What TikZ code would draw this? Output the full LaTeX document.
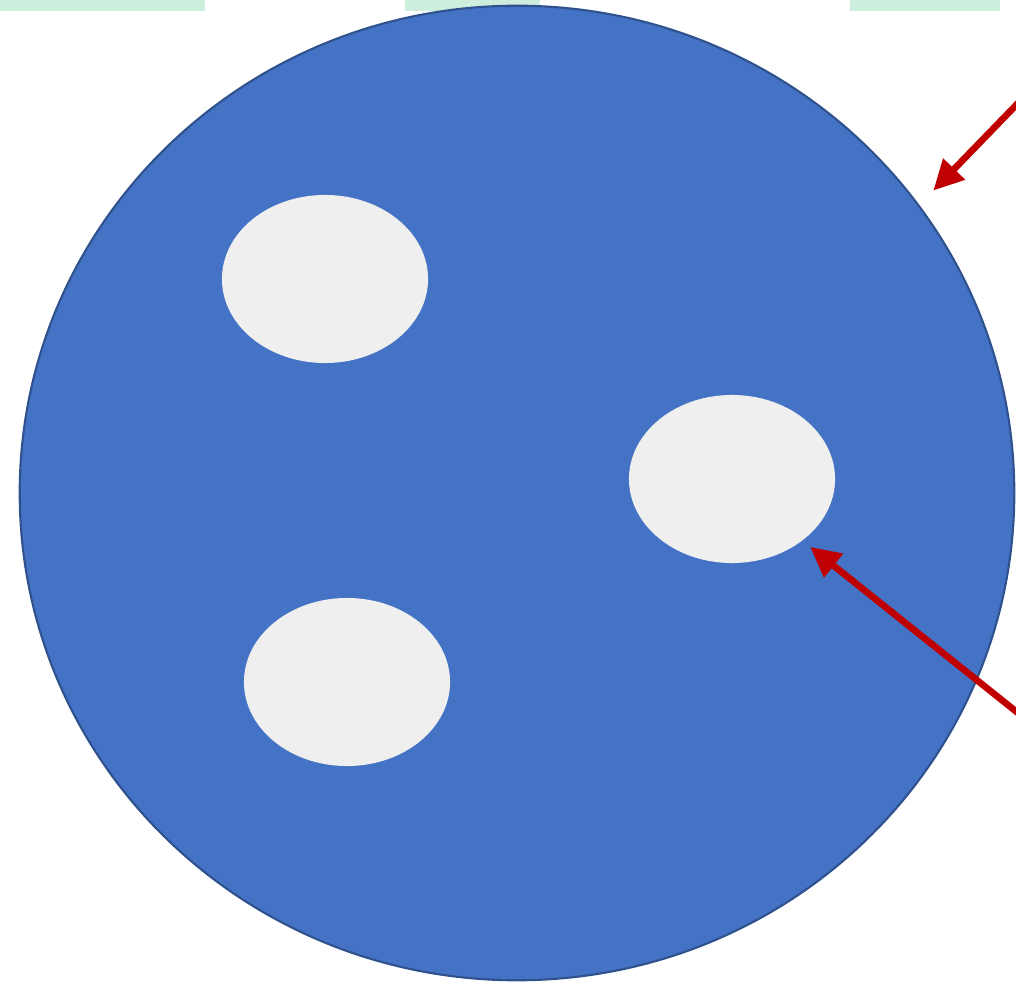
\documentclass[tikz,border=0pt]{standalone}
\usepackage{tikz}
\usetikzlibrary{shapes.geometric,arrows.meta,calc}
\definecolor{diskblue}{HTML}{4472C4}
\definecolor{diskedge}{HTML}{2F528F}
\definecolor{holegray}{HTML}{EFEFEF}
\definecolor{arrowred}{HTML}{C00000}
\definecolor{stripgreen}{HTML}{CDEEDC}
\begin{document}
\begin{tikzpicture}[
    x=0.01cm, y=-0.01cm,
    disk/.style={ellipse, draw=diskedge, line width=0.6pt, fill=diskblue, inner sep=0pt, minimum width=9.94cm, minimum height=9.74cm},
    hole/.style={ellipse, fill=holegray, inner sep=0pt, minimum width=2.06cm, minimum height=1.68cm},
    arrow/.style={-{Triangle[length=0.3cm, width=0.29cm]}, line width=1.9pt, arrowred},
    strip/.style={fill=stripgreen, draw=none}
]
\useasboundingbox (0,0) rectangle (1016,983);

% top strips
\fill[strip] (0,0) rectangle (205,11);
\fill[strip] (405,0) rectangle (540,11);
\fill[strip] (850,0) rectangle (1000,11);

% disk and holes
\node[disk] (disk) at (517,493) {};
\node[hole] (hole1) at (325,279) {};
\node[hole] (hole2) at (732,479) {};
\node[hole] (hole3) at (347,682) {};

% arrows
\coordinate (a1) at (1022,99);
\coordinate (a2) at (1018,713);
\draw[arrow] (a1) -- ($(disk.center)!1.04!(disk.36)$);
\draw[arrow] (a2) -- ($(hole2.center)!1.1!(hole2.-41)$);

\end{tikzpicture}
\end{document}
